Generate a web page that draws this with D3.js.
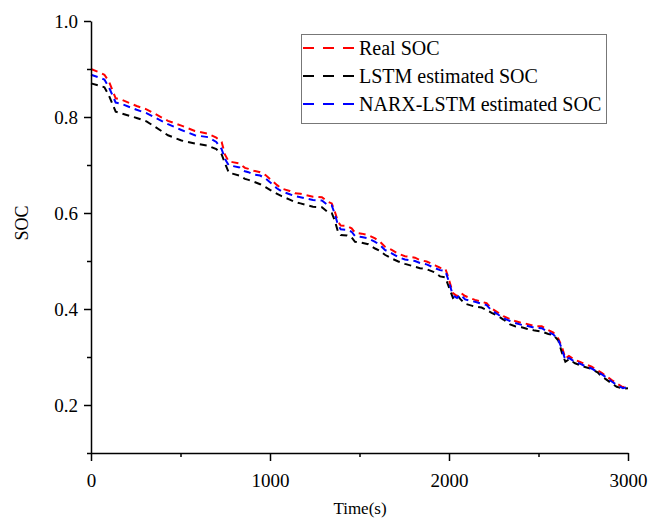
<!DOCTYPE html>
<head>
    <script src="https://d3js.org/d3.v7.min.js"></script>
    <style>
body {
  margin: 0;
  background: #fff;
  font-family: "Liberation Serif", "Times New Roman", serif;
}
svg text {
  font-family: "Liberation Serif", "Times New Roman", serif;
}
</style>
</head>
<body>
    <svg></svg>
</body>

<script>
    // time axis (s), shared by all three curves
    var timeS = [0, 40, 75, 100, 138, 165, 255, 310, 430, 505, 580, 655, 700, 730, 748, 770, 790, 830, 860, 880,
        910, 945, 975, 1000, 1040, 1065, 1110, 1140, 1170, 1240, 1290, 1320, 1345, 1362, 1380, 1395, 1430, 1456, 1475, 1512,
        1549, 1587, 1615, 1642, 1680, 1717, 1754, 1810, 1838, 1875, 1922, 1950, 1980, 1995, 2022, 2045, 2065, 2090, 2145, 2182,
        2210, 2238, 2276, 2304, 2341, 2369, 2406, 2434, 2480, 2518, 2555, 2583, 2611, 2630, 2650, 2670, 2704, 2732, 2760, 2797,
        2830, 2853, 2872, 2909, 2937, 2972, 3000];

    var realSoc = [0.900, 0.894, 0.888, 0.874, 0.839, 0.837, 0.823, 0.816, 0.792, 0.782, 0.771, 0.765, 0.757, 0.748, 0.722, 0.707, 0.706, 0.703, 0.694, 0.692,
        0.688, 0.685, 0.679, 0.671, 0.658, 0.651, 0.646, 0.641, 0.640, 0.634, 0.633, 0.624, 0.620, 0.603, 0.582, 0.574, 0.573, 0.568, 0.559, 0.557,
        0.554, 0.547, 0.540, 0.530, 0.523, 0.515, 0.510, 0.507, 0.502, 0.499, 0.491, 0.486, 0.484, 0.467, 0.433, 0.427, 0.434, 0.427, 0.419, 0.415,
        0.412, 0.401, 0.392, 0.385, 0.379, 0.375, 0.371, 0.369, 0.364, 0.364, 0.356, 0.351, 0.338, 0.322, 0.297, 0.302, 0.294, 0.290, 0.285, 0.280,
        0.272, 0.267, 0.262, 0.252, 0.245, 0.237, 0.240];

    var lstmSoc = [0.870, 0.866, 0.862, 0.845, 0.811, 0.808, 0.798, 0.791, 0.762, 0.751, 0.745, 0.740, 0.733, 0.722, 0.704, 0.684, 0.682, 0.678, 0.671, 0.669,
        0.665, 0.660, 0.654, 0.648, 0.640, 0.635, 0.628, 0.623, 0.620, 0.613, 0.612, 0.603, 0.600, 0.584, 0.561, 0.554, 0.553, 0.549, 0.540, 0.538,
        0.535, 0.526, 0.521, 0.513, 0.505, 0.499, 0.494, 0.488, 0.485, 0.483, 0.476, 0.468, 0.466, 0.450, 0.423, 0.429, 0.420, 0.411, 0.405, 0.403,
        0.398, 0.392, 0.385, 0.378, 0.368, 0.364, 0.362, 0.359, 0.355, 0.353, 0.348, 0.346, 0.334, 0.310, 0.290, 0.295, 0.287, 0.283, 0.279, 0.275,
        0.268, 0.259, 0.255, 0.245, 0.238, 0.234, 0.235];

    var narxSoc = [0.888, 0.883, 0.878, 0.862, 0.830, 0.828, 0.815, 0.808, 0.785, 0.773, 0.762, 0.758, 0.748, 0.733, 0.713, 0.699, 0.698, 0.695, 0.687, 0.685,
        0.680, 0.678, 0.672, 0.664, 0.651, 0.645, 0.639, 0.635, 0.633, 0.627, 0.626, 0.617, 0.616, 0.598, 0.575, 0.566, 0.565, 0.561, 0.552, 0.550,
        0.547, 0.540, 0.533, 0.523, 0.516, 0.508, 0.503, 0.500, 0.496, 0.493, 0.485, 0.481, 0.479, 0.462, 0.428, 0.423, 0.430, 0.420, 0.415, 0.411,
        0.408, 0.397, 0.388, 0.381, 0.375, 0.371, 0.367, 0.365, 0.361, 0.360, 0.352, 0.347, 0.335, 0.318, 0.293, 0.298, 0.290, 0.286, 0.281, 0.276,
        0.269, 0.264, 0.259, 0.249, 0.242, 0.235, 0.238];

    var seriesNames = ["Real SOC", "LSTM estimated SOC", "NARX-LSTM estimated SOC"];
    var seriesColors = ["#ff0000", "#000000", "#0000ff"];
    var xTicks = [0, 1000, 2000, 3000];
    var xMinor = [500, 1500, 2500];
    var yTicks = [0.2, 0.4, 0.6, 0.8, 1.0];
    var yMinor = [0.1, 0.3, 0.5, 0.7, 0.9];

    var width = 649;
    var height = 519;
    var serif = '"Liberation Serif", "Times New Roman", serif';

    var svg = d3.select('svg')
        .attr('width', width)
        .attr('height', height);

    var x = d3.scaleLinear().domain([0, 3000]).range([91, 628]);
    var y = d3.scaleLinear().domain([0.1, 1.0]).range([453, 21]);

    var line = d3.line()
        .x(function (d) { return x(d.t); })
        .y(function (d) { return y(d.v); });

    // draw order: real first, then LSTM, then NARX on top
    var allSeries = [realSoc, lstmSoc, narxSoc];
    allSeries.forEach(function (vals, i) {
        var pts = timeS.map(function (t, j) { return { t: t, v: vals[j] }; });
        svg.append('path')
            .datum(pts)
            .attr('d', line)
            .attr('fill', 'none')
            .attr('stroke', seriesColors[i])
            .attr('stroke-width', 2)
            .attr('stroke-dasharray', '7,5');
    });

    // axes: major ticks with labels, minor ticks without
    var xAxis = svg.append('g').attr('transform', 'translate(0,453)');
    xAxis.call(d3.axisBottom(x).tickValues(xTicks).tickSize(8).tickSizeOuter(0).tickPadding(13)
        .tickFormat(d3.format('d')));
    xAxis.append('g').call(d3.axisBottom(x).tickValues(xMinor).tickSize(4).tickSizeOuter(0).tickFormat(''))
        .select('.domain').remove();

    var yAxis = svg.append('g').attr('transform', 'translate(91,0)');
    yAxis.call(d3.axisLeft(y).tickValues(yTicks).tickSize(7).tickSizeOuter(0).tickPadding(6)
        .tickFormat(d3.format('.1f')));
    yAxis.append('g').call(d3.axisLeft(y).tickValues(yMinor).tickSize(4).tickSizeOuter(0).tickFormat(''))
        .select('.domain').remove();

    [xAxis, yAxis].forEach(function (a) {
        a.attr('font-family', serif).attr('font-size', 19);
    });

    svg.selectAll('.domain, .tick line')
        .attr('stroke', '#000')
        .attr('stroke-width', 1.5);
    svg.selectAll('.tick text')
        .attr('fill', '#000');

    // axis titles
    svg.append('text')
        .attr('x', 360)
        .attr('y', 514)
        .attr('text-anchor', 'middle')
        .attr('font-family', serif)
        .attr('font-size', 17)
        .text('Time(s)');

    svg.append('text')
        .attr('transform', 'translate(28,223)rotate(-90)')
        .attr('text-anchor', 'middle')
        .attr('font-family', serif)
        .attr('font-size', 18)
        .text('SOC');

    // legend
    var legend = svg.append('g');
    legend.append('rect')
        .attr('x', 301.5).attr('y', 34.5)
        .attr('width', 305).attr('height', 89)
        .attr('fill', '#fff')
        .attr('stroke', '#777')
        .attr('stroke-width', 1);

    seriesNames.forEach(function (name, i) {
        var ly = 48 + i * 28;
        legend.append('line')
            .attr('x1', 303).attr('x2', 355)
            .attr('y1', ly).attr('y2', ly)
            .attr('stroke', seriesColors[i])
            .attr('stroke-width', 2)
            .attr('stroke-dasharray', '11,9');
        legend.append('text')
            .attr('x', 359).attr('y', ly + 7)
            .attr('font-family', serif)
            .attr('font-size', 20)
            .text(name);
    });
</script>
